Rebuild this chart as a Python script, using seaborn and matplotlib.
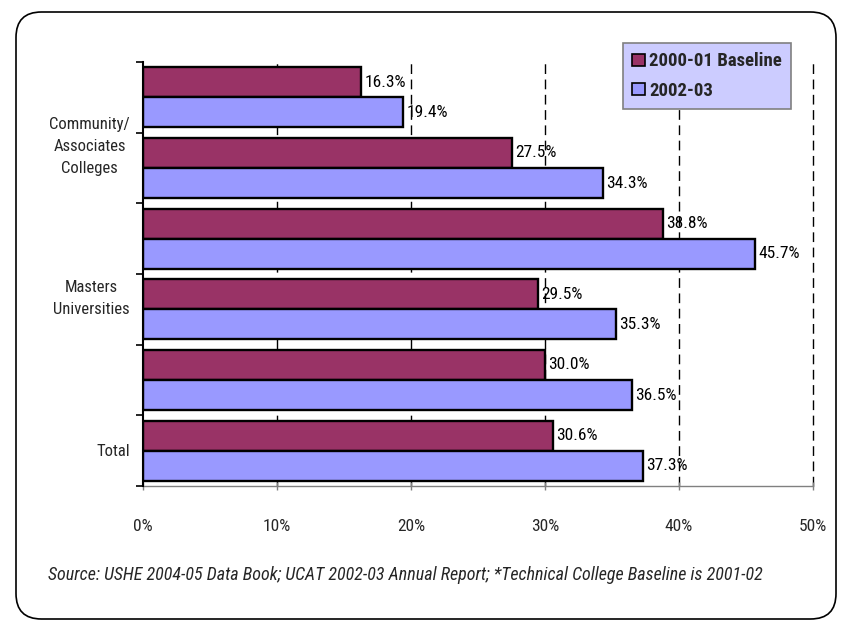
import matplotlib
matplotlib.use("Agg")
import matplotlib.pyplot as plt
import seaborn as sns
import pandas as pd
from matplotlib.patches import FancyBboxPatch, Patch
from matplotlib.transforms import offset_copy, blended_transform_factory

# Sector rows, top to bottom (only some rows carry a printed label)
row_labels = ["", "Community/\nAssociates\nColleges", "", "Masters\nUniversities", "", "Total"]
series_names = ["2000-01 Baseline", "2002-03"]
baseline = [16.3, 27.5, 38.8, 29.5, 30.0, 30.6]
current = [19.4, 34.3, 45.7, 35.3, 36.5, 37.3]
x_ticks = [0, 10, 20, 30, 40, 50]
x_tick_labels = ["0%", "10%", "20%", "30%", "40%", "50%"]
footnote = ("Source: USHE 2004-05 Data Book; UCAT 2002-03 Annual Report; "
            "*Technical College Baseline is 2001-02")

colors = ["#993366", "#9999FF"]

rows = list(range(len(row_labels)))
df = pd.DataFrame({
    "row": rows * 2,
    "series": [series_names[0]] * len(rows) + [series_names[1]] * len(rows),
    "value": baseline + current,
})

sns.set_theme(style="white")
plt.rcParams["font.family"] = ["Roboto Condensed", "Liberation Sans", "DejaVu Sans"]

fig = plt.figure(figsize=(8.48, 6.29), dpi=100)
ax = fig.add_axes([143 / 848, 1 - 486 / 629, 670 / 848, 424 / 629])

# Rounded frame around the whole chart
frame = FancyBboxPatch((16 / 848, 10 / 629), 820 / 848, 607 / 629,
                       boxstyle="round,pad=0,rounding_size=0.03",
                       transform=fig.transFigure, fill=False,
                       edgecolor="black", linewidth=1.2, zorder=0,
                       mutation_aspect=848 / 629)
fig.patches.append(frame)

# Dashed reference lines behind the bars
for xv in x_ticks[1:]:
    ax.axvline(xv, color="black", linewidth=1.0, linestyle=(0, (7, 4)),
               zorder=0, clip_on=False)

sns.barplot(data=df, x="value", y="row", hue="series", orient="h",
            order=rows, hue_order=series_names, palette=colors, saturation=1,
            width=0.85, edgecolor="black", linewidth=1.7,
            ax=ax, legend=False, zorder=2)

# Value labels at the end of each bar
for cont in ax.containers:
    for bar in cont:
        w = bar.get_width()
        ax.text(w + 0.25, bar.get_y() + bar.get_height() / 2, f"{w:.1f}%",
                ha="left", va="center", fontsize=12.5, color="black", zorder=3)

ax.set_xlim(0, 50)
ax.set_ylim(len(rows) - 0.5, -0.5)
ax.set_xticks(x_ticks)
ax.set_xticklabels(x_tick_labels, fontsize=12.5)
ax.tick_params(axis="x", direction="inout", length=6, color="#808080",
               width=1, pad=21, bottom=True)
ax.set_xlabel("")
ax.set_ylabel("")

# Row boundary ticks on the left axis; row names placed as text
ax.set_yticks([])
ax.set_yticks([r - 0.5 for r in rows] + [len(rows) - 0.5], minor=True)
ax.tick_params(axis="y", which="minor", direction="out", length=5,
               width=1.2, color="black", left=True)
ax.tick_params(axis="y", which="major", length=0)

lab_trans = offset_copy(blended_transform_factory(ax.transAxes, ax.transData),
                        fig=fig, x=-13, y=-8, units="dots")
for r, lab in zip(rows, row_labels):
    if lab:
        ax.text(0, r, lab, transform=lab_trans, ha="right", va="bottom",
                multialignment="center", fontsize=12, linespacing=1.6)

for side in ["top", "right"]:
    ax.spines[side].set_visible(False)
ax.spines["left"].set_color("black")
ax.spines["left"].set_linewidth(1.5)
ax.spines["left"].set_zorder(4)
ax.spines["bottom"].set_color("#808080")
ax.spines["bottom"].set_linewidth(1.0)

# Legend box
handles = [Patch(facecolor=c, edgecolor="black", linewidth=1.2) for c in colors]
leg = fig.legend(handles, series_names, loc="upper left",
                 bbox_to_anchor=(623 / 848, 1 - 43 / 629),
                 prop={"weight": "bold", "size": 13.5},
                 handlelength=0.65, handleheight=0.65, handletextpad=0.25,
                 labelspacing=0.6, borderpad=0.5, borderaxespad=0,
                 frameon=True, fancybox=False)
leg.get_frame().set_facecolor("#CCCCFF")
leg.get_frame().set_edgecolor("#808080")
leg.get_frame().set_linewidth(1.2)
leg.get_frame().set_alpha(1)

fig.text(48 / 848, 1 - 575 / 629, footnote, fontsize=13, style="italic",
         ha="left", va="center")

fig.savefig("out.png", dpi=100)
